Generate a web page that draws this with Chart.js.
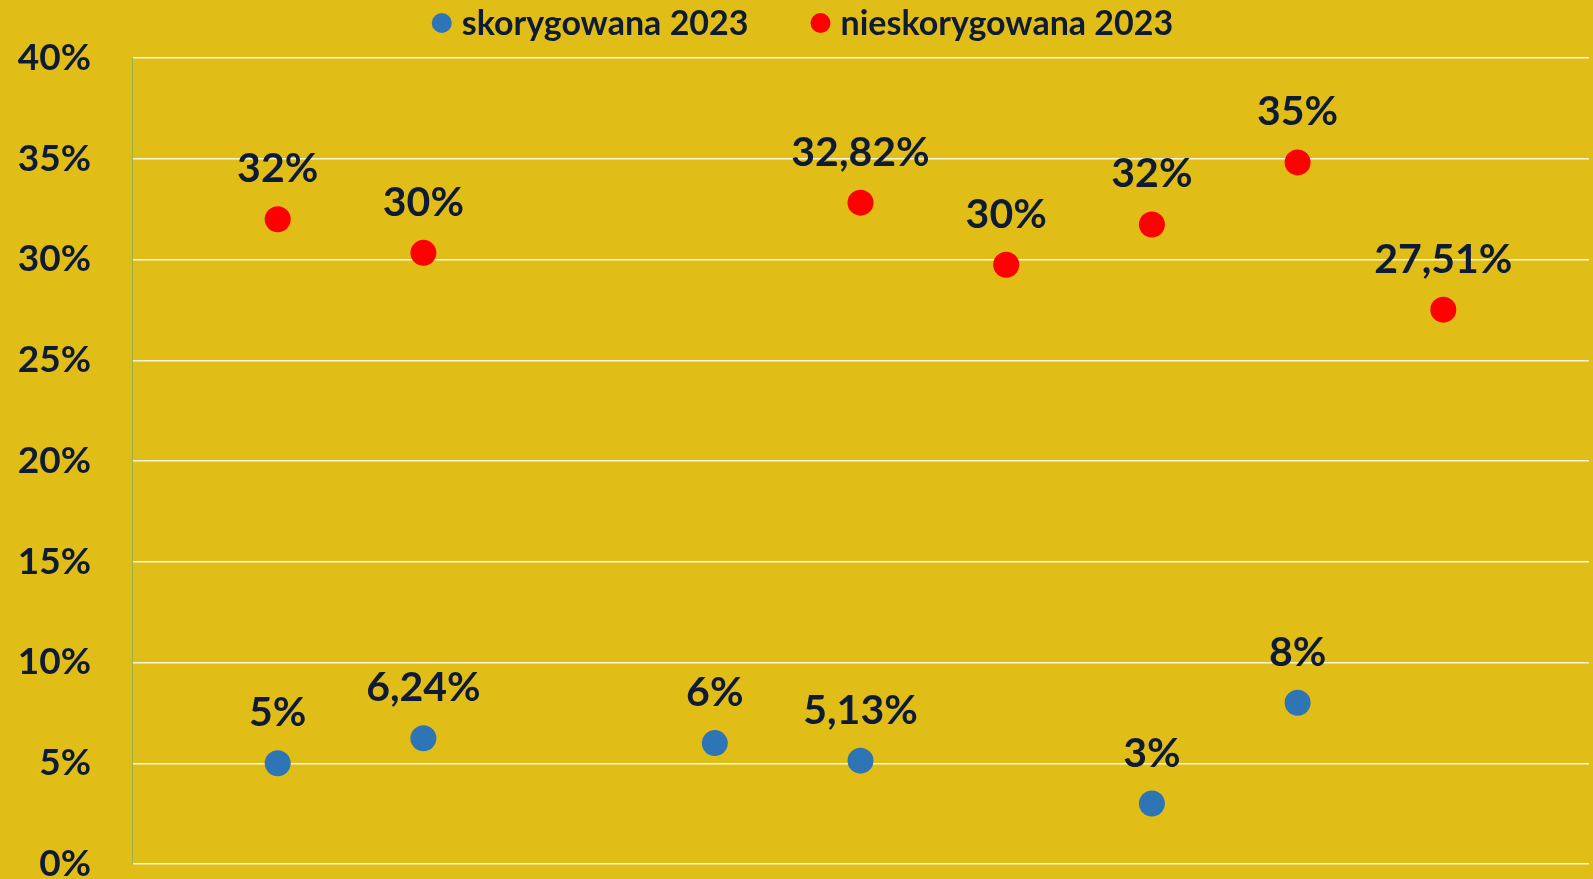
<!DOCTYPE html>
<html lang="pl">
<head>
<meta charset="utf-8">
<title>skorygowana / nieskorygowana 2023</title>
<script src="https://cdn.jsdelivr.net/npm/chart.js@4.4.1/dist/chart.umd.min.js"></script>
<style>
  html, body { margin: 0; padding: 0; background: #E1BE17; }
  #wrap { width: 1593px; height: 879px; position: relative; }
</style>
</head>
<body>
<div id="wrap"><canvas id="chart"></canvas></div>
<script>
// series 1 - skorygowana 2023 (blue)
const skorygowanaX = [1, 2, 4, 5, 7, 8];
const skorygowanaY = [5, 6.24, 6, 5.13, 3, 8];
const skorygowanaLabels = ["5%", "6,24%", "6%", "5,13%", "3%", "8%"];

// series 2 - nieskorygowana 2023 (red)
const nieskorygowanaX = [1, 2, 5, 6, 7, 8, 9];
const nieskorygowanaY = [32, 30.33, 32.82, 29.74, 31.74, 34.82, 27.51];
const nieskorygowanaLabels = ["32%", "30%", "32,82%", "30%", "32%", "35%", "27,51%"];

// y axis ticks
const yTicks = [0, 5, 10, 15, 20, 25, 30, 35, 40];

const FONT = 'Lato, "Open Sans", sans-serif';
const TEXT = "#0F1B34";

function toPoints(xs, ys) {
  return xs.map((x, i) => ({ x: x, y: ys[i] }));
}

// data labels above every point
const pointLabels = {
  id: "pointLabels",
  afterDatasetsDraw(chart) {
    const ctx = chart.ctx;
    ctx.save();
    ctx.font = "bold 41px " + FONT;
    ctx.fillStyle = TEXT;
    ctx.textAlign = "center";
    ctx.textBaseline = "alphabetic";
    chart.data.datasets.forEach((ds, i) => {
      chart.getDatasetMeta(i).data.forEach((pt, j) => {
        ctx.fillText(ds.valueLabels[j], pt.x, pt.y - 37);
      });
    });
    ctx.restore();
  }
};

// legend on top, centred like the original
const topLegend = {
  id: "topLegend",
  afterDraw(chart) {
    const ctx = chart.ctx;
    ctx.save();
    ctx.font = "bold 34px " + FONT;
    ctx.textBaseline = "middle";
    ctx.textAlign = "left";
    const r = 10, gapText = 10, gapItem = 62;
    const items = chart.data.datasets.map(ds => ({
      text: ds.label,
      color: ds.backgroundColor,
      w: ctx.measureText(ds.label).width
    }));
    let total = 0;
    items.forEach((it, i) => { total += 2 * r + gapText + it.w + (i ? gapItem : 0); });
    let x = chart.width / 2 - total / 2 + 6;
    const y = 23;
    items.forEach(it => {
      ctx.fillStyle = it.color;
      ctx.beginPath();
      ctx.arc(x + r, y, r, 0, Math.PI * 2);
      ctx.fill();
      x += 2 * r + gapText;
      ctx.fillStyle = TEXT;
      ctx.fillText(it.text, x, y + 1);
      x += it.w + gapItem;
    });
    ctx.restore();
  }
};

new Chart(document.getElementById("chart"), {
  type: "scatter",
  data: {
    datasets: [
      {
        label: "skorygowana 2023",
        data: toPoints(skorygowanaX, skorygowanaY),
        valueLabels: skorygowanaLabels,
        backgroundColor: "#2E75B6",
        borderWidth: 0,
        pointRadius: 13,
        pointHoverRadius: 13
      },
      {
        label: "nieskorygowana 2023",
        data: toPoints(nieskorygowanaX, nieskorygowanaY),
        valueLabels: nieskorygowanaLabels,
        backgroundColor: "#FF0000",
        borderWidth: 0,
        pointRadius: 13,
        pointHoverRadius: 13
      }
    ]
  },
  options: {
    responsive: true,
    maintainAspectRatio: false,
    animation: false,
    layout: {
      autoPadding: false,
      padding: { top: 58, right: 4, bottom: 15, left: 0 }
    },
    plugins: {
      legend: { display: false },
      tooltip: { enabled: false }
    },
    scales: {
      x: {
        type: "linear",
        min: 0,
        max: 10,
        display: false
      },
      y: {
        min: 0,
        max: 40,
        afterBuildTicks: (scale) => {
          scale.ticks = yTicks.map(v => ({ value: v }));
        },
        afterFit: (scale) => {
          // fixed axis width, and no extra room for the first/last label
          scale.width = 132;
          scale.paddingTop = 0;
          scale.paddingBottom = 0;
        },
        ticks: {
          padding: 41,
          color: TEXT,
          font: { family: FONT, size: 37, weight: "bold" },
          callback: (v) => v + "%"
        },
        grid: {
          color: "rgba(255,255,255,0.85)",
          lineWidth: 1.5,
          drawTicks: false
        },
        border: {
          color: "#93B548",
          width: 1
        }
      }
    }
  },
  plugins: [pointLabels, topLegend]
});
</script>
</body>
</html>
